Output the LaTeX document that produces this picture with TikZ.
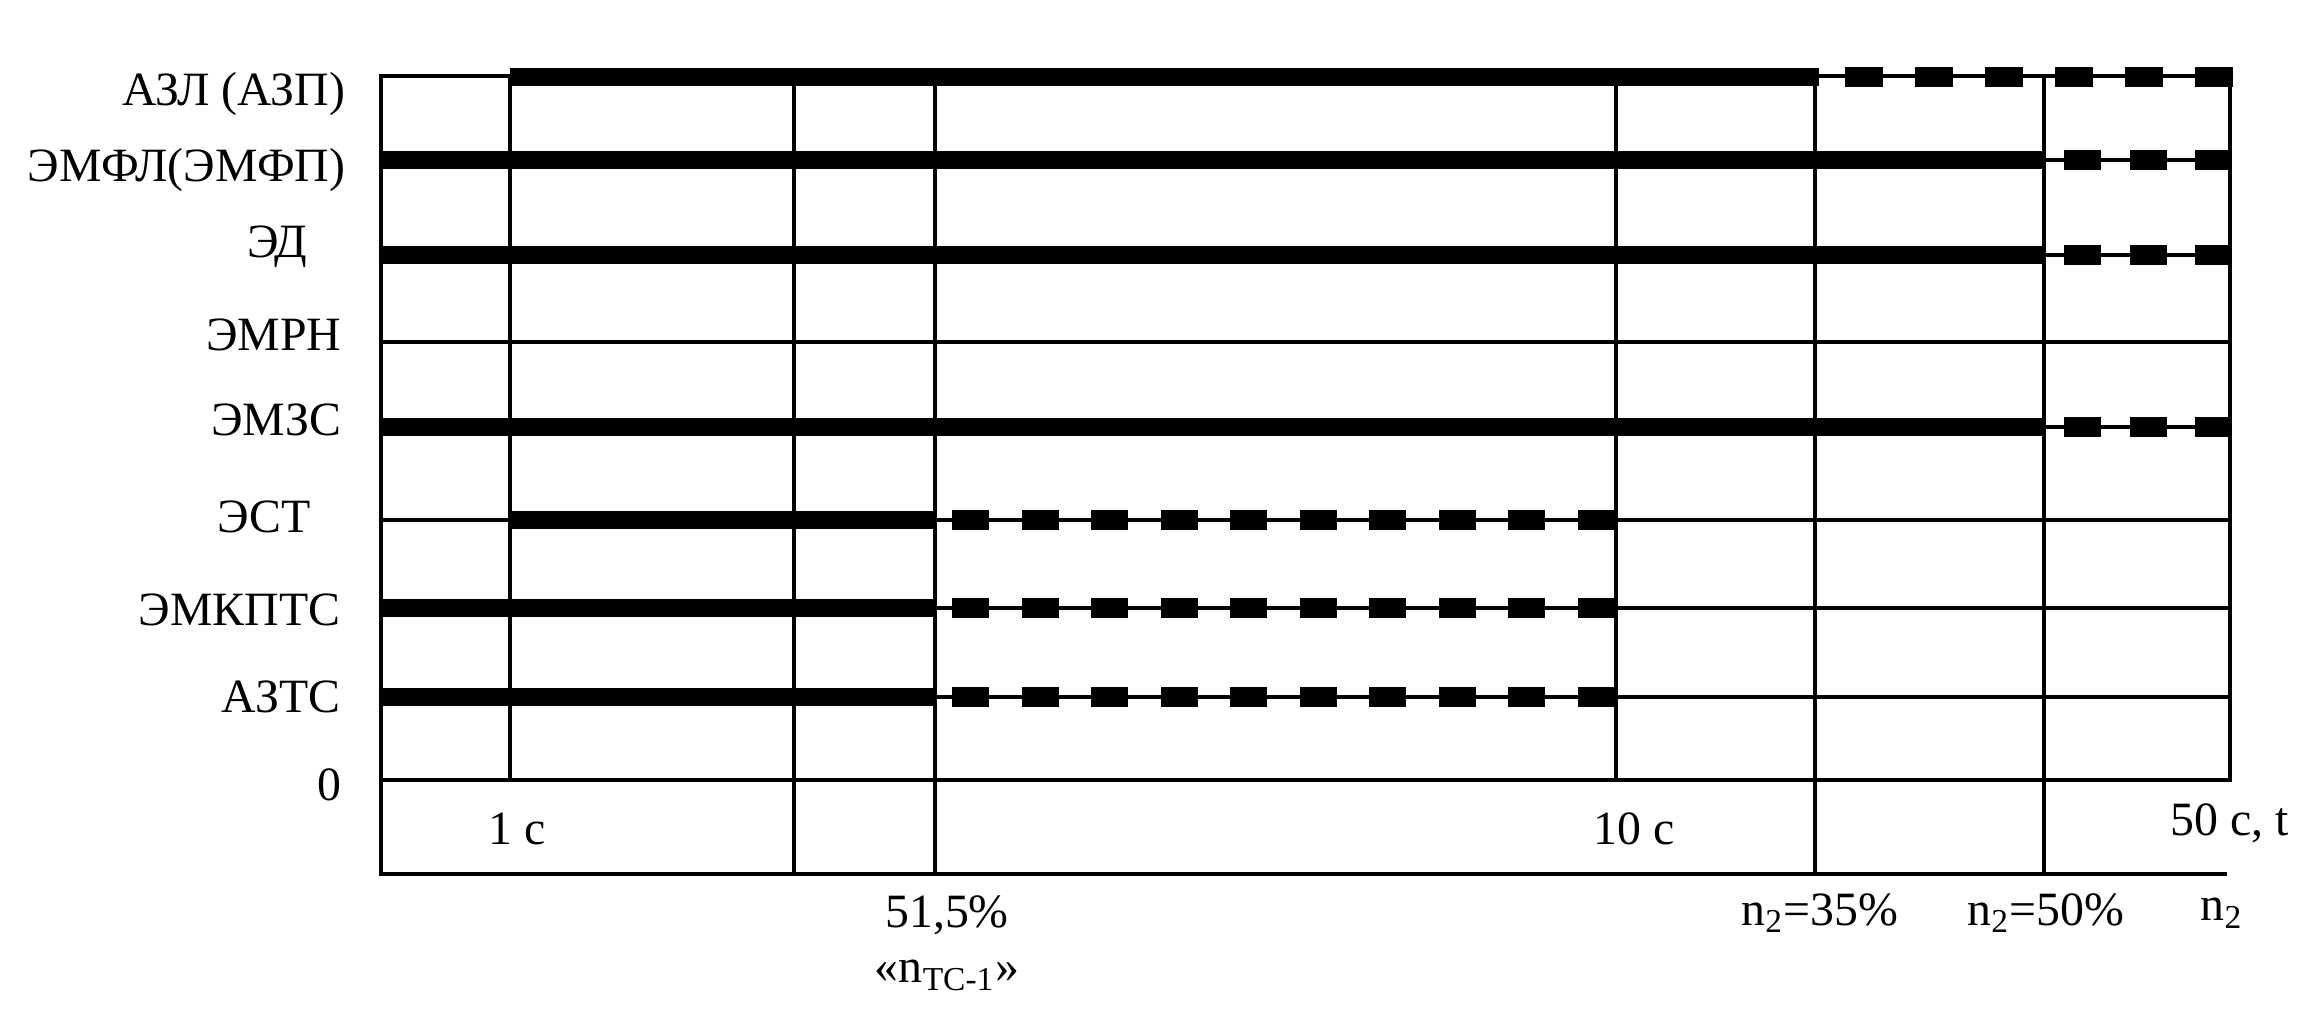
\documentclass[tikz,border=0pt]{standalone}
\usepackage{fontspec}
\setmainfont{Liberation Serif}
\usetikzlibrary{positioning}

\begin{document}
\begin{tikzpicture}[x=0.1mm,y=-0.1mm,
        grid/.style={line width=0.45mm, line cap=rect},
        bar/.style={line width=1.8mm},
        lbl/.style={anchor=east, inner sep=0pt, font=\fontsize{13.6pt}{16pt}\selectfont},
        tck/.style={inner sep=0pt, font=\fontsize{13.6pt}{16pt}\selectfont}]
        \useasboundingbox (0,0) rectangle (2318,1021);

        % Grid
        \foreach \y in {76,160,255,342,427,520,608,697,780}
            \draw[grid] (381,\y) -- (2230,\y);
        \draw[grid] (381,874) -- (2225,874);
        \draw[grid] (381,76) -- (381,874);
        \foreach \x in {510,1616,2230}
            \draw[grid] (\x,76) -- (\x,780);
        \foreach \x in {794,935,1815,2044}
            \draw[grid] (\x,76) -- (\x,874);

        % Bars
        \draw[bar] (510,77) -- (1819,77);
        \draw[bar] (381,160) -- (2046,160);
        \draw[bar] (381,255) -- (2046,255);
        \draw[bar] (381,427) -- (2044,427);
        \draw[bar] (510,520) -- (935,520);
        \draw[bar] (381,608) -- (935,608);
        \draw[bar] (381,697) -- (935,697);

        % Dashed parts
        \foreach \i in {0,...,5}
            \fill ({1845+70*\i},67) rectangle ++(38,20);
        \foreach \y in {160,255,427}
            \foreach \i in {0,1,2}
                \fill ({2064+65.5*\i},{\y-10}) rectangle ++(37,20);
        \foreach \y in {520,608,697}
            \foreach \i in {0,...,9}
                \fill ({952+69.5*\i},{\y-10}) rectangle ++(37,20);

        % Row labels
        \node (azl) [lbl] at (346,94) {АЗЛ (АЗП)};
        \node (emfl) [lbl] at (346,170) {ЭМФЛ(ЭМФП)};
        \node (ed) [lbl] at (308,247) {ЭД};
        \node (emrn) [lbl] at (342,335) {ЭМРН};
        \node (emzs) [lbl] at (342,420) {ЭМЗС};
        \node (est) [lbl] at (311,517) {ЭСТ};
        \node (emkpts) [lbl] at (341,610) {ЭМКПТС};
        \node (azts) [lbl] at (341,697) {АЗТС};
        \node (zero) [lbl] at (342,785) {0};

        % Axis labels
        \node (t1) [tck] at (517,829) {1 с};
        \node (t10) [tck] at (1634,829) {10 с};
        \node (t50) [tck] at (2230,823) {50 с, t};
        \node (p515) [tck] at (947,915) {51,5\%};
        \node (ntc) [tck, below=2.4mm of p515] {«n\textsubscript{ТС-1}»};
        \node (n35) [tck] at (1820,913) {n\textsubscript{2}=35\%};
        \node (n50) [tck] at (2046,913) {n\textsubscript{2}=50\%};
        \node (n2) [tck] at (2222,913) {n\textsubscript{2}};

    \end{tikzpicture}
\end{document}
